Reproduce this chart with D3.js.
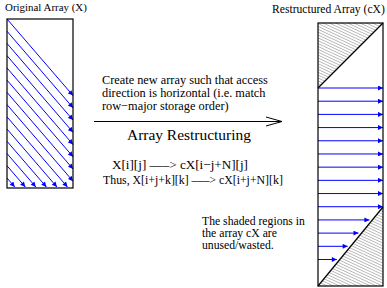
<!DOCTYPE html>
<html lang="en">
<meta charset="utf-8">
<title>Array Restructuring</title>
<style>
  body { margin: 0; background: #fff; }
  svg { display: block; }
  text { font-family: "Liberation Serif", "Times New Roman", Times, serif; fill: #000; }
</style>
<body>
<div id="chart"></div>
<script src="https://cdn.jsdelivr.net/npm/d3@7"></script>
<script>
// diagonal access streams in X (index of each diagonal, top-left first)
var diagonals = [0, 1, 2, 3, 4, 5, 6, 7, 8, 9, 10, 11, 12, 13];
// rows of cX that hold data
var cxRows = [0, 1, 2, 3, 4, 5, 6, 7, 8, 9, 10, 11, 12, 13];
var noteLines = ["Create new array such that access",
                 "direction is horizontal (i.e. match",
                 "row\u2212major storage order)"];
var mapLines = ["X[i][j] \u2013\u2013\u2013> cX[i\u2212j+N][j]",
                "Thus, X[i+j+k][k] \u2013\u2013\u2013> cX[i+j+N][k]"];
var wasteLines = ["The shaded regions in", "the array cX are", "unused/wasted."];

var W = 387, H = 288;
var svg = d3.select("#chart").append("svg").attr("width", W).attr("height", H);

// scale a text element so it spans the given width, return the size used
function fit(sel, width) {
  var base = 10;
  sel.attr("font-size", base);
  var len = sel.node().getComputedTextLength();
  var size = base * width / len;
  sel.attr("font-size", size);
  return size;
}

var defs = svg.append("defs");
defs.append("marker").attr("id", "head")
  .attr("viewBox", "0 0 10 10").attr("refX", 10).attr("refY", 5)
  .attr("markerUnits", "userSpaceOnUse")
  .attr("markerWidth", 6).attr("markerHeight", 5).attr("orient", "auto")
  .append("path").attr("d", "M0,0 L10,5 L0,10 z").attr("fill", "#0000ff");

var hatch = defs.append("pattern").attr("id", "hatch")
  .attr("patternUnits", "userSpaceOnUse").attr("width", 8).attr("height", 2.6)
  .attr("patternTransform", "rotate(25)");
hatch.append("rect").attr("width", 8).attr("height", 2.6).attr("fill", "#fff");
hatch.append("line").attr("x1", 0).attr("x2", 8).attr("y1", 1.3).attr("y2", 1.3)
  .attr("stroke", "#8a8a8a").attr("stroke-width", 0.6);

// ---- Original array X ----
var L = { x0: 7, x1: 73, y0: 19, y1: 188 };
var slope = 1.16;
var yStart = d3.scaleLinear().domain([0, 13]).range([L.y0, 178]);

fit(svg.append("text").attr("x", 5).attr("y", 11).text("Original Array (X)"), 82);

var g1 = svg.append("g");
g1.selectAll("line.diag").data(diagonals).join("line")
  .attr("class", "diag")
  .each(function(d) {
    var y0 = yStart(d);
    var yEnd = y0 + slope * (L.x1 - L.x0);
    var x2 = L.x1, y2 = yEnd;
    if (yEnd > L.y1 - 1) { y2 = L.y1 - 1; x2 = L.x0 + (y2 - y0) / slope; }
    d3.select(this).attr("x1", L.x0).attr("y1", y0).attr("x2", x2).attr("y2", y2);
  })
  .attr("stroke", "#0000ff").attr("stroke-width", 1)
  .attr("marker-end", "url(#head)");

g1.append("rect").attr("x", L.x0).attr("y", L.y0)
  .attr("width", L.x1 - L.x0).attr("height", L.y1 - L.y0)
  .attr("fill", "none").attr("stroke", "#000").attr("stroke-width", 1.2);

// ---- Middle text & arrow ----
var notes = svg.selectAll("text.note").data(noteLines).join("text")
  .attr("class", "note").attr("x", 102).attr("y", function(d, i) { return 84 + i * 13; })
  .text(function(d) { return d; });
var noteSize = fit(notes.filter(function(d, i) { return i === 0; }), 166);
notes.attr("font-size", noteSize);

svg.append("line").attr("x1", 94).attr("x2", 282).attr("y1", 121.5).attr("y2", 121.5)
  .attr("stroke", "#000").attr("stroke-width", 1.2);
svg.append("path").attr("d", "M266,117 L282,121.5 L266,126")
  .attr("fill", "none").attr("stroke", "#000").attr("stroke-width", 1);

fit(svg.append("text").attr("x", 127).attr("y", 140).text("Array Restructuring"), 124);

var mapWidths = [136, 180];
svg.selectAll("text.map").data(mapLines).join("text")
  .attr("class", "map").attr("x", function(d, i) { return i ? 103 : 112; })
  .attr("y", function(d, i) { return 169 + i * 15; })
  .text(function(d) { return d; })
  .each(function(d, i) { fit(d3.select(this), mapWidths[i]); });

var waste = svg.selectAll("text.waste").data(wasteLines).join("text")
  .attr("class", "waste").attr("x", 202).attr("y", function(d, i) { return 225 + i * 12; })
  .text(function(d) { return d; });
var wasteSize = fit(waste.filter(function(d, i) { return i === 0; }), 103);
waste.attr("font-size", wasteSize);

// ---- Restructured array cX ----
var R = { x0: 318, x1: 383, y0: 23, y1: 286 };
var rowY = d3.scaleLinear().domain([0, 13]).range([88, 259.5]);
var topDiag = { y: 88 };
var botDiag = { yTop: 207 };
function botDiagX(y) {
  return R.x1 - (R.x1 - R.x0) * (y - botDiag.yTop) / (R.y1 - botDiag.yTop);
}

fit(svg.append("text").attr("x", 272).attr("y", 13).text("Restructured Array (cX)"), 113);

var g2 = svg.append("g");
g2.append("path")
  .attr("d", "M" + R.x0 + "," + R.y0 + " L" + R.x1 + "," + R.y0 + " L" + R.x0 + "," + topDiag.y + " z")
  .attr("fill", "url(#hatch)");
g2.append("path")
  .attr("d", "M" + R.x1 + "," + botDiag.yTop + " L" + R.x1 + "," + R.y1 + " L" + R.x0 + "," + R.y1 + " z")
  .attr("fill", "url(#hatch)");
g2.append("line").attr("x1", R.x0).attr("y1", topDiag.y).attr("x2", R.x1).attr("y2", R.y0)
  .attr("stroke", "#000").attr("stroke-width", 1.2);
g2.append("line").attr("x1", R.x1).attr("y1", botDiag.yTop).attr("x2", R.x0).attr("y2", R.y1)
  .attr("stroke", "#000").attr("stroke-width", 1.2);

g2.selectAll("line.row").data(cxRows).join("line")
  .attr("class", "row")
  .attr("x1", R.x0)
  .attr("x2", function(d) {
    var y = rowY(d);
    return y > botDiag.yTop + 1 ? Math.min(R.x1, botDiagX(y) - 3) : R.x1;
  })
  .attr("y1", function(d) { return rowY(d); })
  .attr("y2", function(d) { return rowY(d); })
  .attr("stroke", "#0000ff").attr("stroke-width", 1)
  .attr("marker-end", "url(#head)");

g2.append("rect").attr("x", R.x0).attr("y", R.y0)
  .attr("width", R.x1 - R.x0).attr("height", R.y1 - R.y0)
  .attr("fill", "none").attr("stroke", "#000").attr("stroke-width", 1.2);
</script>
</body>
</html>
